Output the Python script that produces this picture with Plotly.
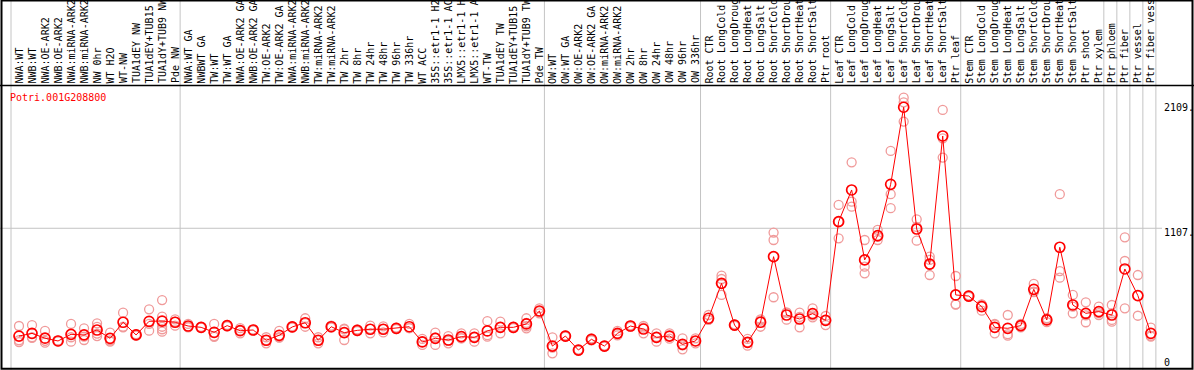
import plotly.graph_objects as go

# ---------------- data ----------------
title_text = "Potri.001G208800"

labels_g1 = ["NWA:WT", "NWB:WT", "NWA:OE-ARK2", "NWB:OE-ARK2", "NWA:miRNA-ARK2", "NWB:miRNA-ARK2",
             "NW 0hr", "WT H2O", "WT-NW", "TUA1dEY NW", "TUA1dEY+TUB15", "TUA1dY+TUB9 NW", "Pde NW"]
labels_g2 = ["NWA:WT GA", "NWBWT GA", "TW:WT", "TW:WT GA", "NWA:OE-ARK2 GA", "NWB:OE-ARK2 GA",
             "TW:OE-ARK2", "TW:OE-ARK2 GA", "NWA:miRNA-ARK2", "NWB:miRNA-ARK2", "TW:miRNA-ARK2",
             "TW:miRNA-ARK2", "TW 2hr", "TW 8hr", "TW 24hr", "TW 48hr", "TW 96hr", "TW 336hr", "WT ACC",
             "35S::etr1-1 H2", "35S::etr1-1 AC", "LMX5::etr1-1 H", "LMX5::etr1-1 A", "WT-TW",
             "TUA1dEY TW", "TUA1dEY+TUB15", "TUA1dY+TUB9 TW", "Pde TW"]
labels_g3 = ["OW:WT", "OW:WT GA", "OW:OE-ARK2", "OW:OE-ARK2 GA", "OW:miRNA-ARK2", "OW:miRNA-ARK2",
             "OW 2hr", "OW 8hr", "OW 24hr", "OW 48hr", "OW 96hr", "OW 336hr"]
labels_g4 = ["Root CTR", "Root LongCold", "Root LongDroug", "Root LongHeat", "Root LongSalt",
             "Root ShortCold", "Root ShortDrou", "Root ShortHeat", "Root ShortSalt", "Ptr root"]
labels_g5 = ["Leaf CTR", "Leaf LongCold", "Leaf LongDroug", "Leaf LongHeat", "Leaf LongSalt",
             "Leaf ShortCold", "Leaf ShortDrou", "Leaf ShortHeat", "Leaf ShortSalt", "Ptr leaf"]
labels_g6 = ["Stem CTR", "Stem LongCold", "Stem LongDroug", "Stem LongHeat", "Stem LongSalt",
             "Stem ShortCold", "Stem ShortDrou", "Stem ShortHeat", "Stem ShortSalt", "Ptr shoot", "Ptr xylem"]
labels_g7 = ["Ptr phloem"]
labels_g8 = ["Ptr fiber"]
labels_g9 = ["Ptr vessel"]
labels_g10 = ["Ptr fiber vess"]

groups = [labels_g1, labels_g2, labels_g3, labels_g4, labels_g5, labels_g6,
          labels_g7, labels_g8, labels_g9, labels_g10]

means = [
    215, 237, 197, 174, 229, 224, 265, 196, 329, 224, 337, 339, 329,
    298, 287, 246, 301, 259, 265, 180, 221, 290, 325, 180, 292, 243, 262, 271, 271, 279, 292,
    166, 196, 182, 210, 204, 257, 287, 287, 315, 422,
    132, 215, 99, 188, 132, 237, 298, 273, 204, 215, 146, 174,
    362, 651, 306, 163, 329, 872, 389, 356, 400, 345,
    1162, 1424, 845, 1046, 1471, 2109, 1101, 811, 1871, 555,
    546, 458, 287, 279, 301, 602, 348, 950, 472, 403, 417,
    389, 770, 550, 237,
]

replicates = [
    [298, 180, 165], [306, 205, 200], [257, 160, 175], [174, 170, 178], [315, 168, 205],
    [279, 182, 210], [320, 290, 215, 235], [243, 168, 178], [408, 287, 292], [224, 218, 230],
    [436, 259, 316], [513, 375, 292, 271, 251], [353, 301, 333],
    [315, 287, 292], [290, 284, 287], [315, 215, 208], [301, 295, 307], [280, 237, 260],
    [265, 262, 268], [180, 155, 205], [257, 205, 201], [290, 285, 295], [362, 292, 321],
    [180, 155, 205], [300, 285, 292], [271, 182, 276], [270, 255, 262], [301, 237, 275],
    [295, 245, 273], [279, 285, 273], [315, 280, 281], [166, 141, 191], [243, 141, 204],
    [215, 155, 176], [237, 196, 197], [237, 168, 207], [339, 210, 222], [334, 237, 290],
    [290, 280, 291], [362, 279, 296, 323], [444, 403, 419],
    [204, 72, 120], [215, 210, 220], [99, 95, 103], [188, 180, 196], [132, 128, 136],
    [257, 220, 234], [298, 292, 304], [298, 237, 284], [237, 168, 207], [237, 193, 215],
    [196, 105, 137], [196, 154, 172],
    [389, 348, 350], [715, 687, 555, 647], [306, 300, 312], [163, 135, 191], [353, 292, 342],
    [1071, 1010, 536], [410, 350, 407], [408, 287, 373], [444, 370, 386], [381, 306, 348],
    [1300, 1024, 1162], [1653, 1327, 1286], [1010, 789, 734], [1093, 1010, 1035],
    [1747, 1389, 1273], [2188, 2150, 1990], [1181, 1004, 1118], [872, 720, 845, 807],
    [2087, 1852, 1692], [712, 478, 475],
    [546, 540, 552], [472, 425, 477], [315, 237, 309], [389, 218, 230], [315, 287, 301],
    [646, 582, 578], [362, 330, 352], [1389, 753, 698], [555, 403, 458], [494, 329, 386],
    [458, 389, 404],
    [472, 348, 334, 402], [1032, 836, 444], [720, 383], [284, 210, 217],
]

y_ticks = [0, 1107, 2109]
y_tick_text = ["0", "1107.", "2109."]

# ---------------- build ----------------
labels = [l for g in groups for l in g]
xs = list(range(len(labels)))

rep_x, rep_y = [], []
for i, reps in enumerate(replicates):
    for v in reps:
        rep_x.append(i)
        rep_y.append(v)

W, H = 1194, 370
PX_PER_CAT = 13.01
FIRST_PX = 19.0
x_lo = -FIRST_PX / PX_PER_CAT
x_hi = x_lo + W / PX_PER_CAT
Y_PX_PER_UNIT = 0.1208
ZERO_PX = 362.0
y_lo = -(H - ZERO_PX) / Y_PX_PER_UNIT
y_hi = y_lo + H / Y_PX_PER_UNIT

MONO = "DejaVu Sans Mono"

fig = go.Figure()
fig.add_trace(go.Scatter(
    x=rep_x, y=rep_y, mode="markers",
    marker=dict(symbol="circle-open", size=9, color="#f09a9a", line=dict(width=1.3)),
    hoverinfo="skip", showlegend=False))
fig.add_trace(go.Scatter(
    x=xs, y=means, mode="lines+markers",
    line=dict(color="#ff0000", width=1),
    marker=dict(symbol="circle-open", size=10, color="#ff0000", line=dict(width=1.7)),
    showlegend=False))

shapes = []
# horizontal grid line at middle tick
shapes.append(dict(type="line", xref="paper", yref="y", x0=0, x1=1162 / W,
                   y0=y_ticks[1], y1=y_ticks[1], line=dict(color="#c4c4c4", width=1), layer="below"))
# group separators
bounds = [0]
for g in groups:
    bounds.append(bounds[-1] + len(g))
off = 8 / PX_PER_CAT
for b in bounds:
    shapes.append(dict(type="line", xref="x", yref="paper", x0=b - off, x1=b - off,
                       y0=0, y1=1, line=dict(color="#c4c4c4", width=1), layer="below"))
# separator between labels and plot
shapes.append(dict(type="line", xref="paper", yref="paper", x0=0, x1=1,
                   y0=(H - 85.5) / H, y1=(H - 85.5) / H, line=dict(color="black", width=1.3)))
# frame
shapes.append(dict(type="rect", xref="paper", yref="paper", x0=1.5 / W, x1=(W - 1.5) / W,
                   y0=1.2 / H, y1=(H - 0.5) / H, line=dict(color="black", width=2)))

annotations = []
for i, lab in enumerate(labels):
    annotations.append(dict(x=i, y=(H - 84.5) / H, xref="x", yref="paper", text=lab,
                            textangle=-90, showarrow=False, xanchor="center", yanchor="bottom",
                            borderpad=0, font=dict(family=MONO, size=10, color="black")))
for v, t in zip(y_ticks, y_tick_text):
    annotations.append(dict(x=1163 / W, y=v, xref="paper", yref="y", text=t, showarrow=False,
                            xanchor="left", yanchor="middle", borderpad=0,
                            yshift=-4 if v == y_ticks[1] else 0,
                            font=dict(family=MONO, size=10, color="black")))
annotations.append(dict(x=9 / W, y=(H - 97) / H, xref="paper", yref="paper", text=title_text,
                        showarrow=False, xanchor="left", yanchor="middle", borderpad=0,
                        font=dict(family=MONO, size=10, color="#ff0000")))

fig.update_layout(
    width=W, height=H, margin=dict(l=0, r=0, t=0, b=0),
    paper_bgcolor="white", plot_bgcolor="white",
    xaxis=dict(range=[x_lo, x_hi], visible=False, fixedrange=True),
    yaxis=dict(range=[y_lo, y_hi], visible=False, fixedrange=True),
    shapes=shapes, annotations=annotations, showlegend=False,
)

fig.write_html(
    "out.html",
    config={"displayModeBar": False},
    post_script="document.body.style.margin='0';document.documentElement.style.overflow='hidden';document.body.style.overflow='hidden';",
)
